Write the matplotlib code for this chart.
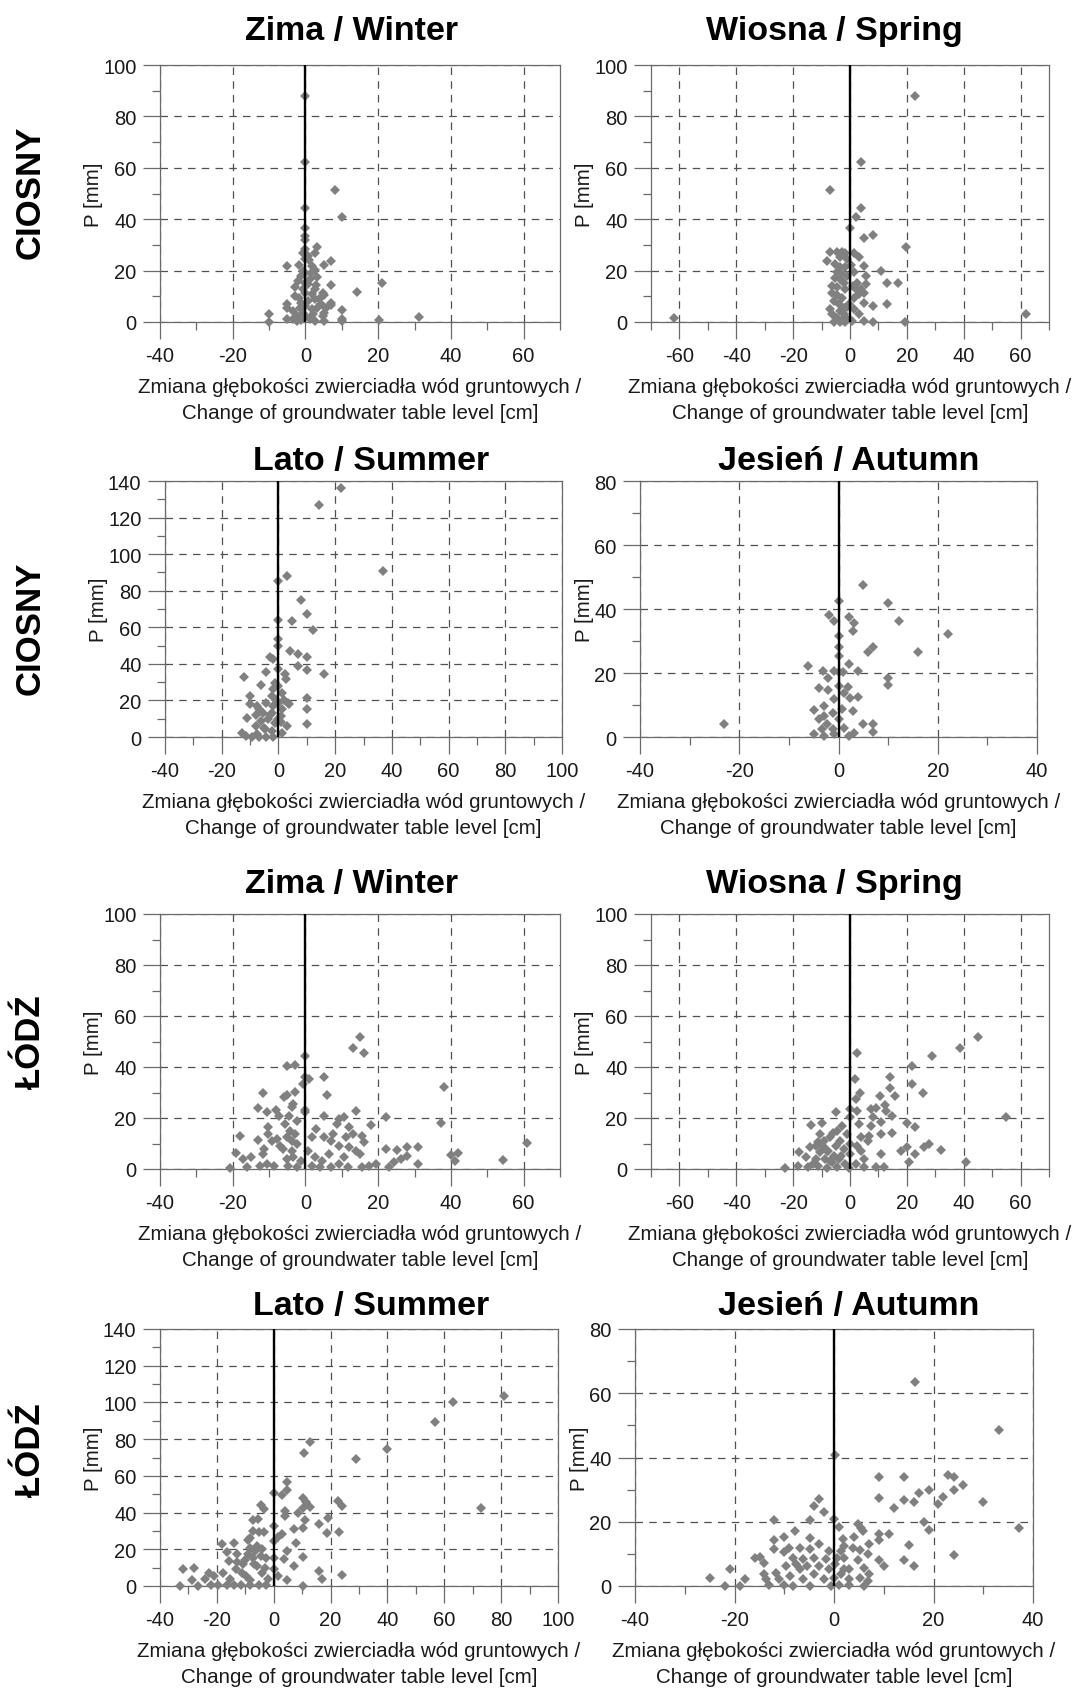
import matplotlib
matplotlib.use('Agg')
import matplotlib.pyplot as plt
from matplotlib.ticker import MultipleLocator

plt.rcParams['font.family'] = ['Liberation Sans', 'DejaVu Sans']
plt.rcParams['axes.unicode_minus'] = False

# ---- data: change of groundwater table level [cm] (x) vs precipitation P [mm] (y)
# CIOSNY - winter
ciosny_winter_x = [0, 0, 8.1, 10.1, 0, 0, 0, 0, 3.2, 2.7,
                   7.1, 5.1, -5.2, -1.8, -0.8, 0.7, 1.7, 2.5, 3.2, -1.3,
                   -2.8, 1.2, 7.1, 14.1, 21.1, 4.7, 5.1, 2.7, 1.7, -1.8,
                   -1.3, 0.7, 4.2, 7.1, 7.1, 10.1, 10.1, 10.1, 20.2, 31.1,
                   -9.9, -9.9, -5.2, -5, -5.2, -3.3, -2.3, -1.3, 1.2, 2.7,
                   5.1, 5.1, 4.7, 1.7, 2.2, -2.3, -3.3, -0.8, -0.8, 0.7,
                   -0.8, 0, 0, 0, 0, 0, 0, 0, 3.7, 5.6, 3.2,
                   -2, 1.5, 2.5, -1.5, 3, -3, 1]
ciosny_winter_y = [88, 62.3, 51.4, 40.9, 44.2, 36.4, 33.5, 32, 29, 27,
                   23.8, 22.2, 21.8, 22.2, 27, 25.7, 21.8, 20.3, 17.7, 18,
                   13.8, 16.6, 14.3, 11.7, 15.1, 11.4, 10.4, 12.7, 10.8, 9.5,
                   7.5, 8.2, 6.9, 6.6, 7.3, 4.5, 1.3, 0.4, 0.8, 1.9,
                   3.2, 0, 6.9, 5.6, 1.3, 4.3, 2.3, 0.8, 1, 0.4,
                   0.4, 3.6, 2.3, 4.9, 3, 0.4, 1, 3.6, 12.7, 14.7,
                   19.9, 28.3, 24.4, 19.2, 15.3, 11.4, 6.2, 2.3, 8.8, 5.6, 5.6,
                   16, 19, 9, 5.5, 14.5, 10, 24]

# CIOSNY - spring
ciosny_spring_x = [-61.8, 23, 3.8, -7, 3.8, 2, 0, 4.8, 8, 19.8,
                   11, 13, 16.8, 13, 8, 5, 3.2, 4.8, 8, 19.2,
                   61.8, -8.2, -7, -4.6, -2.8, 1.4, 3.2, -3.4, -5.2, -3.4,
                   -1.6, 5, 1.4, 5.6, -5.2, -3.4, -6.4, -4.6, 2.6, 5.6,
                   4.8, 3.2, 1.4, -6.4, -4.6, -2.8, -5.8, -4, -2.2, -6.4,
                   -4.6, -2.8, -1, 0.8, 1.4, -1.6, -2.2, -1, -1.2, -1.6,
                   -5.8, -3.4, -1.6, -7, -3.4, 3.8, 2,
                   -2, -0.5, -3, 0.5, -4.5, 1, -1]
ciosny_spring_y = [1.7, 88, 62.3, 51.4, 44.2, 41, 36.4, 32.5, 33.8, 29,
                   19.9, 15.1, 15.1, 6.9, 6.2, 7.5, 3, 0.4, 0, 0,
                   3.2, 23.8, 27.4, 27.4, 27.4, 27, 25.4, 25.4, 22.5, 21.4,
                   21.4, 21.6, 19.5, 17.9, 17.3, 16.6, 14, 13.8, 15.3, 14.7,
                   11.4, 10.8, 9.5, 11.4, 10.4, 9.5, 8.2, 6.9, 5.6, 3,
                   1.7, 0.8, 1, 0.4, 4.9, 12.7, 15.3, 17.9, 24.4, 27,
                   0, 0, 0, 4.9, 4.3, 12.7, 12.7,
                   3, 7, 19, 22, 19.5, 14, 6]

# CIOSNY - summer
ciosny_summer_x = [22.1, 14.2, 37, 3, 0, 8, 10, 12.1, 4.9, 0,
                   0, 0, 4, 7, 10, 7, 10, 15.9, 10, 10,
                   10, -3, -1.8, -4.3, -12, -6.2, -10, -10, -11, -13,
                   -11.6, -8, -7.4, -5.5, -3.6, -1.1, 2.4, 2.6, 1.4, 3.3,
                   3.9, 2.9, 1.4, 0, 0, 0, 0, -2.4, -4.3, -6.8,
                   -2.4, -9.3, -6.8, -4.3, -1.8, -2.4, -4.9, -7.4, -1.1, -1.8,
                   1.4, 0.8, -5, -3, -1, 1, 2, -6, -8, -2]
ciosny_summer_y = [136.2, 126.7, 91, 88, 85.2, 75, 67.3, 58.5, 63.6, 64,
                   53.6, 50, 47, 45.2, 43.5, 39, 36.7, 34.7, 21.4, 15.2,
                   7.3, 43.5, 42.6, 35.3, 32.9, 28.3, 22.5, 18.3, 10.4, 2.4,
                   0.5, 6, 17, 13.3, 9.7, 29.8, 34.4, 31.6, 24.3, 18.8,
                   18.3, 6, 2.4, 37, 28, 18.8, 9.7, 22.5, 18.8, 15.2,
                   13.3, 0, 0, 0, 0, 3.3, 4.2, 1.5, 7.9, 17,
                   15.2, 11.5, 5, 12, 20, 8, 20, 9, 12, 26]

# CIOSNY - autumn
ciosny_autumn_x = [-23, 5, 0, 10, 12.1, 22.1, 16, 7, 6, -1.9,
                   -1, 2.1, 3.1, 2.9, 0, 0, 0, -6.1, 2.1, 3.9,
                   -3.1, -1, 1, 10, 10, -2.1, -4, -2.1, 1.9, 3.9,
                   2.4, -5, -3, -1.2, 0.8, 2.9, -4, -2.3, 5, 7,
                   7, -5, -3, -0.9, 2.2, 3.1, -3.3, -1.2, 1.2, -3,
                   -0.9, 1.2, 0, 0, 0]
ciosny_autumn_y = [4.2, 47.5, 42.6, 41.8, 36.2, 32.2, 26.6, 28.2, 26.6, 38.1,
                   36.3, 37.6, 35.5, 33.1, 31.6, 28, 25.4, 22.2, 22.8, 20.6,
                   20.7, 20.7, 20.4, 18.3, 16.3, 18.3, 15.4, 14.7, 15.5, 12.6,
                   12.3, 8.5, 9.7, 7.6, 8.7, 8.1, 5.5, 4, 4.2, 4.2,
                   1.6, 0.8, 0.3, 0.8, 0.3, 1.1, 2.4, 2.4, 2.9, 6.6,
                   11.8, 13.9, 16, 20.2, 5.5]

# LODZ - winter
lodz_winter_x = [-20.7, -19, -17.9, -17.1, -15.1, -16.1, -13.1, -13.1, -11.8, -10.7,
                 -10.4, -10.2, -11.4, -11.6, -12.6, -10.7, -8.7, -8.2, -7.2, -7.7,
                 -6.9, -6.2, -9.2, -5.2, -2.8, -5.9, -5.2, -2.8, -3.8, -4.4,
                 -3.3, -5.7, -2.3, -4.2, -2.8, -3.8, -5.2, -2.3, -3.8, -5.2,
                 -3.3, -1.3, -4.7, -2.3, -0.8, 0, 0, 0, 0, 0.9,
                 5.1, 5.9, 13, 15, 16, 5.1, 14, 3, 8.6, 9.1,
                 10.6, 12, 1.7, 5.1, 7.6, 11.1, 13, 15.5, 16, 18,
                 22.1, 22.1, 25.1, 28, 28, 31, 31, 26.4, 24.4, 22.9,
                 19.4, 17.5, 15.5, 14, 15, 12, 10.6, 9.1, 6.6, 4.6,
                 2.7, 1.7, 4.1, 7.1, 11.6, 38.2, 37.2, 40, 42, 41.2,
                 54.2, 60.9, 9.1, 7.1, 0.7]
lodz_winter_y = [0.4, 6.1, 13.1, 3.9, 4.6, 0.9, 11.4, 23.8, 29.7, 22.5,
                 16.6, 13.7, 7.8, 5.9, 1.3, 2, 1.3, 23.1, 20.9, 11.8,
                 9.2, 7.8, 11.1, 40.5, 40.9, 28.1, 29.2, 30.1, 24.4, 20.9,
                 25.5, 17.6, 19, 15, 13.7, 11.1, 12.4, 9.8, 7.2, 3.9,
                 4.6, 3.3, 1.3, 0.7, 33.3, 44.4, 35.9, 23.1, 22.2, 35.3,
                 35.9, 29.1, 47.3, 51.9, 45.4, 20.9, 22.9, 15.7, 17.6, 19.6,
                 20.3, 16.3, 12.4, 12.4, 13.7, 12.4, 13.7, 13.1, 10.5, 17.4,
                 20.3, 7.8, 7.5, 8.5, 5.2, 8.8, 2, 3.9, 2.6, 0.9,
                 2, 1.3, 0.9, 7.2, 5.9, 8.5, 4.6, 2, 5.9, 3.3,
                 4.6, 1.3, 0.7, 0.9, 0.9, 32, 17.9, 5.6, 6.1, 3,
                 3.5, 10.2, 9.2, 11.1, 7.2]

# LODZ - spring
lodz_spring_x = [-22.9, -18.4, -17.8, -13.8, -10, -14.2, -15.4, -13, -14.8, -10.6,
                 -11.2, -9.4, -10.6, -8.8, -11.2, -8.2, -7, -7.6, -5.8, -6.4,
                 -4.6, -4.8, -4.6, -3.4, -2.2, -4, -1.6, -2.8, -1, -0.4,
                 0, 0, 0, 0, 2.6, 1.8, 3.5, 2, 2.6, 3.2,
                 3.8, 2.6, 3.8, 2, 5, 4.8, 7.4, 6.8, 6.2, 8,
                 7.4, 9.2, 10.4, 11, 9.2, 11.9, 11, 12.2, 12.8, 11,
                 14, 14, 15.8, 14.9, 14.9, 20, 21.8, 21.8, 23, 20,
                 18, 23, 20.6, 25.8, 26, 27.8, 29, 32, 38.7, 45,
                 40.8, 54.9, -12, -9, -7, -5, -3, -8, -6, -12]
lodz_spring_y = [0.4, 1.3, 6.5, 17.3, 17.9, 8.5, 4.6, 2, 0.7, 13.7,
                 10.5, 9.2, 6.5, 3.9, 1.3, 0.4, 12.4, 7.2, 5.2, 2.6,
                 0.7, 22.2, 15, 11.1, 7.8, 3.9, 2, 17, 13.7, 0.4,
                 23.5, 20.3, 9.8, 5.9, 45.4, 35.3, 29.7, 27.5, 22.9, 17.6,
                 12.4, 9.2, 7.2, 2, 3.9, 0.7, 17, 13.1, 11.1, 20.5,
                 23.5, 23.8, 28.8, 5.9, 0.7, 0.9, 13.7, 25.2, 22.9, 18.3,
                 35.9, 31.8, 28.8, 20.9, 14, 17.9, 40.5, 33.3, 16.3, 8.5,
                 6.9, 5.9, 2.6, 29.7, 8.5, 9.8, 44.2, 7.5, 47.3, 51.6,
                 2.6, 20.3, 4, 11, 3, 9, 5, 7, 14, 9]

# LODZ - summer
lodz_summer_x = [81, 63, 73, 56.6, 39.9, 28.9, 12.9, 10.8, 4.5, 0,
                 2.9, 4.8, 10.2, 11.4, 12.9, 10.2, 22.7, 24, -4.3, -3.4,
                 -7.2, -5.5, -7.4, -5.3, -3.4, 3.9, 4.1, 8.5, 11, 10.2,
                 7.3, 2.9, 1.6, 0, 0, 19.2, 15.8, 18.9, 23, 7.9,
                 10.4, 4.8, 3.5, 7.3, 15.8, 17.1, 24, 10.2, 1.6, 4.8,
                 0, 0, -33, -32, -27.9, -28.8, -26.6, -24.1, -22.8, -20.9,
                 -19.7, -18.2, -14.1, -16.6, -15.9, -17.8, -15.3, -12.8, -10.9, -13.4,
                 -9.7, -8.4, -7.2, -5.9, -9, -6.5, -4.6, -11.5, -8.4, -5.3,
                 -2.8, -4, -2.1, -8.4, -14.1, -16.6, -22.2, -8.4, -2.8,
                 -10, -7, -6, -11, -4, -9, -3, -13]
lodz_summer_y = [103.6, 100.5, 42.7, 89.1, 74.9, 69.1, 78.7, 72.2, 56.4, 50.4,
                 49.6, 52.2, 48.2, 46, 43.1, 42.7, 46.4, 43.6, 44.2, 41.8,
                 36, 36.4, 30, 29.5, 29.5, 40.9, 38.2, 39.5, 36, 31.8,
                 30.9, 28.5, 26.7, 32.7, 24.5, 36.9, 33.6, 29.1, 29.6, 23.6,
                 15.8, 19.1, 14.5, 10.9, 8.2, 4, 5.8, 0, 5.5, 3.1,
                 15.5, 9.1, 0, 9.1, 9.6, 3.1, 0, 3.6, 7.3, 5.5,
                 0.5, 23.1, 23.6, 18.7, 13.6, 7.3, 3.6, 17.3, 11.8, 9.1,
                 5.5, 20.9, 15.5, 10.9, 17.3, 19.1, 16.4, 0.5, 0.5, 0.5,
                 0.5, 7.3, 3.6, 3.1, 0.5, 0.5, 0.5, 26.4, 15.5,
                 14, 12, 22, 7, 20, 25, 10, 13]

# LODZ - autumn
lodz_autumn_x = [16.2, 33.2, 0.3, 9.1, 14.1, 23, 24.2, 26, 24.1, 19,
                 17, 22, 21, 9.1, 14.1, 16, 12, 30, 37.1, 18.1,
                 19, 11, 9.1, 9.1, 15, 24.1, 9.1, 14.1, 10.1, 16,
                 -3.1, -4.1, -2.1, 0, 1, -4.9, -12, 4.8, 5.5, 5.8,
                 4, 1.9, 2.1, -7.9, -10, -4.9, -12, -3.1, -12, -9,
                 -6.9, -4.8, -1, 1.4, 3.8, 5.2, 7, 6.9, -10, -15.9,
                 -14.9, -14.1, -8.2, -6.2, -4.1, -1.7, 0.7, 2.1, 4.8, -21,
                 -25, -22, -18.9, -17.9, -14.1, -13.7, -13, -11.7, -11, -10,
                 -8.2, -8.9, -6.9, -6.2, -4.8, -4.1, -3.1, -2.1, -1, -0.7,
                 1, 1.4, 2.1, 3.1, 3.1, 3.1, 5.2, 6, 6.9, 7,
                 6, -5.5, -7.6, -9.6, 0.3, 0]
lodz_autumn_y = [63.4, 48.5, 40.8, 33.8, 34, 34.5, 34, 31.5, 29.8, 29.9,
                 28.8, 27.8, 25.5, 27.5, 26.7, 26, 24.4, 26.1, 18.2, 19.9,
                 17.5, 16.3, 16.3, 14.2, 12.7, 9.7, 8, 8.1, 6.2, 6.2,
                 27, 24.9, 22.9, 20.8, 18.4, 20.5, 20.5, 19.4, 18.2, 17.1,
                 15.3, 14.5, 12.5, 17.1, 15.3, 14.9, 14.2, 13, 11.4, 11.7,
                 11.7, 11.4, 10.9, 10.9, 11.9, 11.1, 13, 10.1, 10.6, 8.8,
                 9, 7.3, 8.8, 8.3, 8.8, 8.3, 8.8, 8.8, 8, 5.2,
                 2.4, 0, 0, 2.1, 3.6, 2.1, 0.3, 4.2, 2.1, 0.3,
                 0, 3.1, 5.2, 2.1, 0, 3.6, 6.2, 2.1, 5.2, 0,
                 0.3, 3.6, 5.2, 0.3, 5.2, 2.1, 2.6, 0, 1.6, 3.6,
                 5.5, 6.2, 6.8, 6.2, 6.8, 2.6]

titles = ['Zima / Winter', 'Wiosna / Spring', 'Lato / Summer', 'Jesień / Autumn']
stations = ['CIOSNY', 'CIOSNY', 'ŁÓDŹ', 'ŁÓDŹ']
xlabel = 'Zmiana głębokości zwierciadła wód gruntowych /\nChange of groundwater table level [cm]'

W, H = 1076, 1690
fig = plt.figure(figsize=(W / 100, H / 100), dpi=100)


def panel(box, x, y, xlim, ylim, title, title_pos):
    l, r, t, b = box
    ax = fig.add_axes([l / W, 1 - b / H, (r - l) / W, (b - t) / H])
    ax.plot(x, y, 'D', ms=5.3, color='#808080', mew=0, zorder=3, clip_on=False)
    ax.axvline(0, color='black', lw=1.7, zorder=4)
    ax.set_xlim(*xlim)
    ax.set_ylim(*ylim)
    ax.xaxis.set_major_locator(MultipleLocator(20))
    ax.xaxis.set_minor_locator(MultipleLocator(10))
    ax.yaxis.set_major_locator(MultipleLocator(20))
    ax.yaxis.set_minor_locator(MultipleLocator(10))
    ax.grid(True, which='major', color='#505050', lw=0.9, linestyle=(0, (6, 5)))
    for s in ax.spines.values():
        s.set_color('#6a6a6a')
        s.set_linewidth(0.9)
    ax.tick_params(which='major', direction='out', length=12, width=0.9,
                   color='#6a6a6a', pad=5, labelsize=14.5, labelcolor='#1a1a1a')
    ax.tick_params(which='minor', direction='out', length=6, width=0.9, color='#6a6a6a')
    ax.set_xlabel(xlabel, fontsize=14.8, labelpad=9, color='#1a1a1a', linespacing=1.45)
    ax.set_ylabel('P [mm]', fontsize=14.8, labelpad=0, color='#1a1a1a')
    fig.text(title_pos[0] / W, 1 - title_pos[1] / H, title, ha='center',
             va='baseline', fontsize=24.5, fontweight='bold')
    return ax


panel((160, 560, 66, 323), ciosny_winter_x, ciosny_winter_y, (-40, 70), (0, 100), titles[0], (352, 40))
panel((651, 1049, 66, 323), ciosny_spring_x, ciosny_spring_y, (-70, 70), (0, 100), titles[1], (834, 40))
panel((165, 562, 482, 738), ciosny_summer_x, ciosny_summer_y, (-40, 100), (0, 140), titles[2], (371, 470))
panel((640, 1037, 482, 738), ciosny_autumn_x, ciosny_autumn_y, (-40, 40), (0, 80), titles[3], (849, 470))
panel((160, 560, 915, 1170), lodz_winter_x, lodz_winter_y, (-40, 70), (0, 100), titles[0], (352, 893))
panel((651, 1049, 915, 1170), lodz_spring_x, lodz_spring_y, (-70, 70), (0, 100), titles[1], (834, 893))
panel((160, 558, 1330, 1587), lodz_summer_x, lodz_summer_y, (-40, 100), (0, 140), titles[2], (371, 1315))
panel((635, 1033, 1330, 1587), lodz_autumn_x, lodz_autumn_y, (-40, 40), (0, 80), titles[3], (849, 1315))

# station names on the left
for name, yc in zip(stations, [192, 628, 1042, 1450]):
    fig.text(30 / W, 1 - yc / H, name, rotation=90, ha='center', va='center',
             fontsize=25, fontweight='bold')

fig.savefig('out.png', dpi=100, facecolor='white')
